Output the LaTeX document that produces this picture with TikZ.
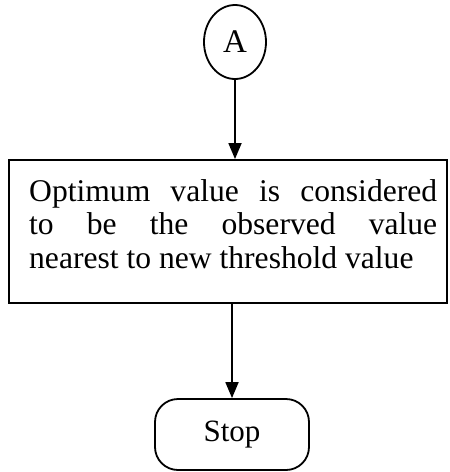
\documentclass[tikz,border=0pt]{standalone}
\usepackage{fontspec}
\setmainfont{Liberation Serif}
\usetikzlibrary{arrows.meta,shapes.geometric}

\tikzset{
  flowline/.style={line width=1.8pt, -{Triangle[width=13pt,length=16pt]}},
  connector/.style={ellipse, draw, line width=1.8pt, minimum width=62pt, minimum height=74pt, inner sep=0pt, font=\fontsize{33}{33}\selectfont},
  processbox/.style={rectangle, draw, line width=1.9pt, minimum width=438pt, minimum height=143pt, inner sep=0pt},
  boxtext/.style={text width=408pt, align=justify, inner sep=0pt, font=\fontsize{31.6}{33.5}\selectfont},
  terminal/.style={rectangle, rounded corners=23pt, draw, line width=1.8pt, minimum width=154pt, minimum height=71pt, inner sep=0pt, font=\fontsize{31}{31}\selectfont}
}

\begin{document}
\begin{tikzpicture}[x=1pt,y=1pt]
  \useasboundingbox (0,0) rectangle (450,-472);

  % off-page connector
  \node[connector] (conA) at (235,-42) {A};

  % process step
  \node[processbox] (proc) at (228,-231.5) {};
  \node[boxtext, anchor=north west] (proctext) at (29,-179)
    {Optimum value is considered\linebreak to be the observed value\linebreak nearest to new threshold value};

  % terminal
  \node[terminal] (stop) at (232,-434.5) {Stop};

  \draw[flowline] (conA.south) -- (conA.south |- proc.north);
  \draw[flowline] (proc.south -| stop.north) -- (stop.north);
\end{tikzpicture}
\end{document}
